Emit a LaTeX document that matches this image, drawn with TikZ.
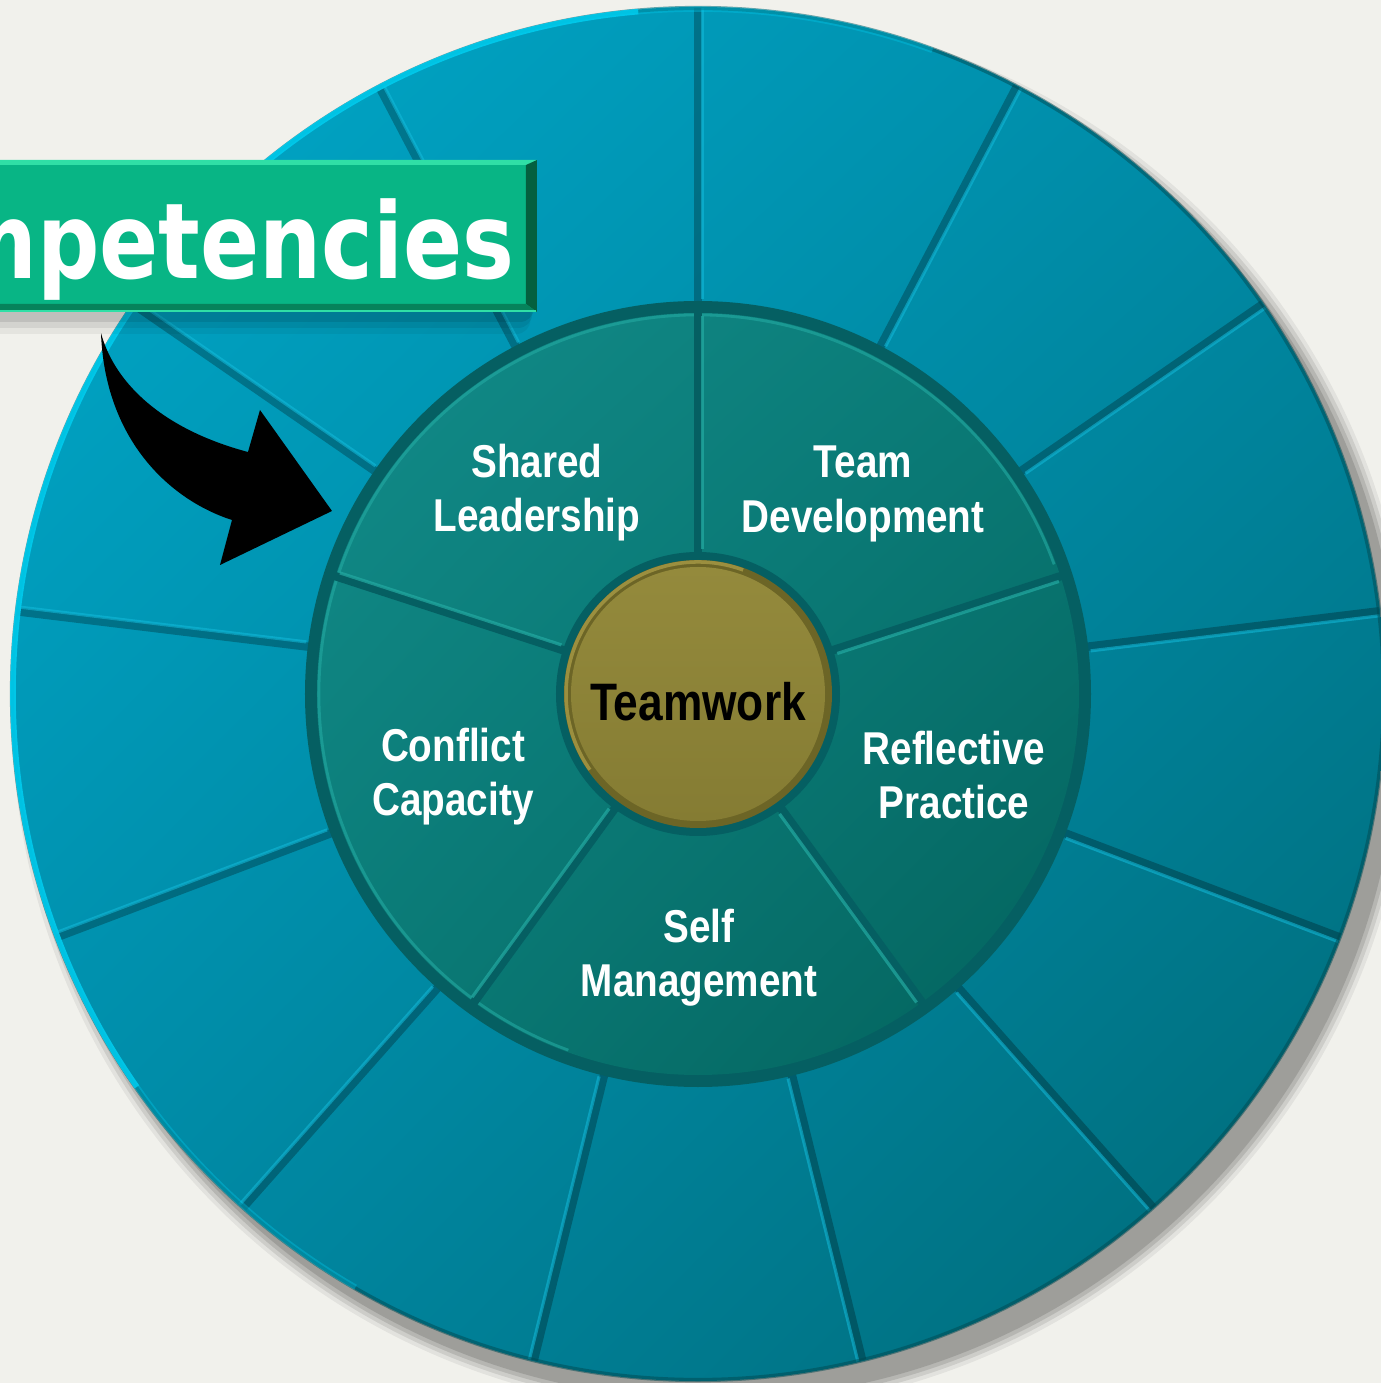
\documentclass[tikz,border=0pt]{standalone}
\usepackage{fontspec}
\usepackage{xcolor}
\usepackage{tikz}
\usetikzlibrary{positioning, calc, shadings}
\newfontfamily\wheelfont[FakeStretch=0.84]{Liberation Sans}
\newfontfamily\bannerfont[FakeStretch=0.83]{DejaVu Sans}
\definecolor{paper}{HTML}{F1F1EC}
\definecolor{outerNW}{HTML}{00AACC}
\definecolor{outerNE}{HTML}{008AA6}
\definecolor{outerSW}{HTML}{0089A5}
\definecolor{outerSE}{HTML}{006874}
\definecolor{outerRim}{HTML}{00CCEE}
\definecolor{outerGlow}{HTML}{14BCDC}
\definecolor{innerNW}{HTML}{128C8A}
\definecolor{innerMid}{HTML}{0A7A76}
\definecolor{innerSE}{HTML}{03625C}
\definecolor{innerGroove}{HTML}{055F62}
\definecolor{innerGlow}{HTML}{23AAA2}
\definecolor{hubTop}{HTML}{948A3C}
\definecolor{hubBottom}{HTML}{857C33}
\definecolor{hubRim}{HTML}{6C6526}
\definecolor{hubHigh}{HTML}{B0A24A}
\definecolor{bannerGreen}{HTML}{08B585}
\definecolor{bannerLight}{HTML}{30DFA6}
\definecolor{bannerDark}{HTML}{04603F}
\tikzset{
  outerseam/.style={
    line width=2.4pt, black, opacity=0.26
  },
  outerglow/.style={
    line width=0.9pt, outerGlow, opacity=0.55
  },
  innerseam/.style={
    line width=2.4pt, innerGroove
  },
  innerglow/.style={
    line width=0.9pt, innerGlow, opacity=0.7
  },
  ringlabel/.style={
    text=white, align=center, inner sep=0pt,
    font={\wheelfont\bfseries\fontsize{13.1}{15.4}\selectfont}
  },
  hublabel/.style={
    text=black, align=center, inner sep=0pt,
    font={\wheelfont\bfseries\fontsize{15}{18}\selectfont}
  },
  bannertitle/.style={
    text=white, inner sep=0pt,
    font={\bannerfont\bfseries\fontsize{29.9}{32}\selectfont}
  }
}

\begin{document}
\begin{tikzpicture}[x=1cm, y=1cm]
  \useasboundingbox (-6.98,-6.89) rectangle (6.83,6.94);
  \fill[paper] (-6.98,-6.89) rectangle (6.83,6.94);

  % soft shadow under the wheel
  \foreach \r/\o in {7.0/0.06, 6.96/0.09, 6.92/0.11, 6.88/0.13}
    \fill[black, opacity=\o] (0.14,-0.18) circle (\r);

  % outer ring, thirteen segments
  \shade[upper left=outerNW, upper right=outerNE, lower left=outerSW, lower right=outerSE]
    (0,0) circle (6.87);
  \begin{scope}
    \clip (0,0) circle (6.86);
    \foreach \i in {0,...,12} {
      \pgfmathsetmacro{\a}{90+\i*360/13}
      \draw[outerseam] (\a:3.9) -- (\a:6.9);
      \draw[outerglow] ($(\a:3.95)+(\a-90:0.045)$) -- ($(\a:6.9)+(\a-90:0.045)$);
    }
  \end{scope}
  \draw[outerSE!70!black, line width=1.2pt, opacity=0.5] (0,0) circle (6.86);
  \draw[outerRim, line width=1.6pt, opacity=0.35] (70:6.85) arc (70:95:6.85);
  \draw[outerRim, line width=1.6pt, opacity=0.9] (95:6.85) arc (95:215:6.85);
  \draw[outerRim, line width=1.6pt, opacity=0.35] (215:6.85) arc (215:240:6.85);

  % inner ring, five competencies
  \fill[innerGroove] (0,0) circle (3.93);
  \shade[upper left=innerNW, upper right=innerMid, lower left=innerMid, lower right=innerSE]
    (0,0) circle (3.81);
  \draw[innerGlow, line width=0.8pt, opacity=0.6] (20:3.79) arc (20:250:3.79);
  \foreach \a in {90, 18, -54, -126, 162} {
    \draw[innerseam] (\a:1.35) -- (\a:3.82);
    \draw[innerglow] ($(\a:1.45)+(\a-90:0.045)$) -- ($(\a:3.78)+(\a-90:0.045)$);
  }

  % hub
  \fill[innerGroove] (0,0) circle (1.42);
  \fill[hubRim] (0,0) circle (1.34);
  \shade[top color=hubTop, bottom color=hubBottom] (0,0) circle (1.27);
  \draw[hubHigh, line width=1pt, opacity=0.7] (70:1.32) arc (70:215:1.32);

  \node[hublabel] (hub) at (0,-0.08) {Teamwork};
  \node[ringlabel] (sharedLead) at (-1.61,2.01) {Shared\\Leadership};
  \node[ringlabel] (teamDev) at (1.65,2.0) {Team\\Development};
  \node[ringlabel] (conflictCap) at (-2.45,-0.83) {Conflict\\Capacity};
  \node[ringlabel] (reflectPrac) at (2.56,-0.81) {Reflective\\Practice};
  \node[ringlabel] (selfMgmt) at (0.01,-2.64) {Self\\Management};

  % banner, cut by the left edge
  \begin{scope}
    \clip (-6.98,-6.89) rectangle (6.83,6.94);
    \foreach \d/\o in {0.22/0.05, 0.16/0.07, 0.10/0.09}
      \fill[black, opacity=\o, rounded corners=4pt] (-7.2,{3.82-\d}) rectangle ({-1.61-\d*0.3},{5.0-\d});
    \fill[bannerGreen] (-7.2,3.82) rectangle (-1.61,5.34);
    \fill[bannerLight] (-7.2,5.34) -- (-1.61,5.34) -- (-1.66,5.29) -- (-7.2,5.29) -- cycle;
    \fill[bannerDark] (-1.61,5.34) -- (-1.61,3.82) -- (-1.72,3.90) -- (-1.72,5.29) -- cycle;
    \fill[bannerDark!60!bannerGreen] (-7.2,3.82) -- (-1.61,3.82) -- (-1.72,3.90) -- (-7.2,3.90) -- cycle;
    \draw[bannerLight, line width=0.6pt] (-7.2,3.83) -- (-1.62,3.83);
    \node[bannertitle, anchor=base east] (title) at (-1.83,4.15) {Competencies};
  \end{scope}

  % curved pointer toward the inner ring
  \fill[black] (-5.97,3.61) .. controls (-5.83,3.09) and (-5.33,2.64) .. (-4.50,2.42)
    -- (-4.38,2.84) -- (-3.66,1.83) -- (-4.78,1.29) -- (-4.66,1.74)
    .. controls (-5.28,1.94) and (-5.93,2.54) .. cycle;
\end{tikzpicture}
\end{document}
